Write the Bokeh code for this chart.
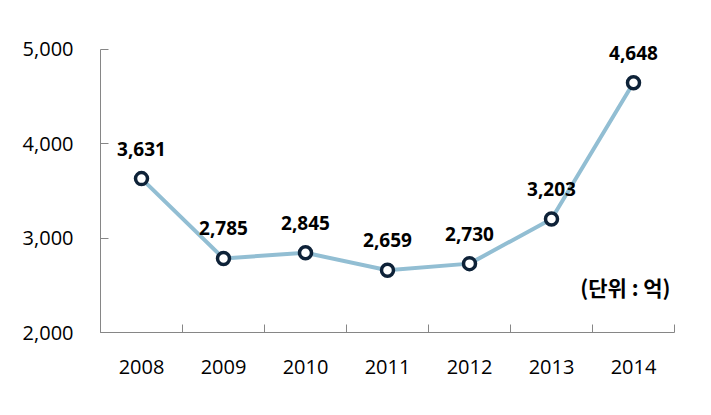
from bokeh.plotting import figure
from bokeh.models import ColumnDataSource, FixedTicker, NumeralTickFormatter, LabelSet, Label, Range1d
from bokeh.core.properties import value
from bokeh.embed import file_html
from bokeh.resources import INLINE

years = ["2008", "2009", "2010", "2011", "2012", "2013", "2014"]
values = [3631, 2785, 2845, 2659, 2730, 3203, 4648]
y_ticks = [2000, 3000, 4000, 5000]
unit_text = "(단위 : 억)"

n = len(years)
xs = [i + 0.5 for i in range(n)]
labels = [f"{v:,}" for v in values]

src = ColumnDataSource(dict(x=xs, y=values, lbl=labels))

y_top = 5360  # headroom above the axis for the data labels

p = figure(width=700, height=400, output_backend="svg", toolbar_location=None,
           x_range=Range1d(0, n), y_range=Range1d(y_ticks[0], y_top),
           min_border_left=100, min_border_right=26, min_border_top=15, min_border_bottom=68)
p.outline_line_color = None
p.grid.visible = False
p.background_fill_color = "white"
p.border_fill_color = "white"

FONT = "Open Sans"

# x axis
p.xaxis.ticker = FixedTicker(ticks=xs, minor_ticks=list(range(n + 1)))
p.xaxis.major_label_overrides = {x: y for x, y in zip(xs, years)}
p.xaxis.major_tick_in = 0
p.xaxis.major_tick_out = 0
p.xaxis.minor_tick_in = 8
p.xaxis.minor_tick_out = 0
p.xaxis.minor_tick_line_color = "#868686"
p.xaxis.axis_line_color = "#868686"
p.xaxis.major_label_standoff = 27
p.xaxis.major_label_text_font = FONT
p.xaxis.major_label_text_font_size = "20px"
p.xaxis.major_label_text_color = "black"

# y axis
p.yaxis.ticker = FixedTicker(ticks=y_ticks, minor_ticks=[])
p.yaxis.bounds = (y_ticks[0], y_ticks[-1])
p.yaxis.formatter = NumeralTickFormatter(format="0,0")
p.yaxis.major_tick_in = 8
p.yaxis.major_tick_out = 0
p.yaxis.major_tick_line_color = "#868686"
p.yaxis.minor_tick_line_color = None
p.yaxis.axis_line_color = "#868686"
p.yaxis.major_label_standoff = 27
p.yaxis.major_label_text_font = FONT
p.yaxis.major_label_text_font_size = "20px"
p.yaxis.major_label_text_color = "black"

p.line("x", "y", source=src, line_color="#92BED3", line_width=4)
p.scatter("x", "y", source=src, size=12, fill_color="white",
          line_color="#0E2238", line_width=3.5)

ls = LabelSet(x="x", y="y", text="lbl", source=src, y_offset=30,
              text_align="center", text_baseline="middle",
              text_font=value(FONT), text_font_size=value("19px"),
              text_font_style="bold", text_color="black")
p.add_layout(ls)

unit = Label(x=n, y=2477, text=unit_text, x_offset=-4, text_align="right",
             text_baseline="middle", text_font="Noto Sans CJK KR",
             text_font_size="21px", text_font_style="bold", text_color="black")
p.add_layout(unit)

open("out.html", "w").write(file_html(p, INLINE))
